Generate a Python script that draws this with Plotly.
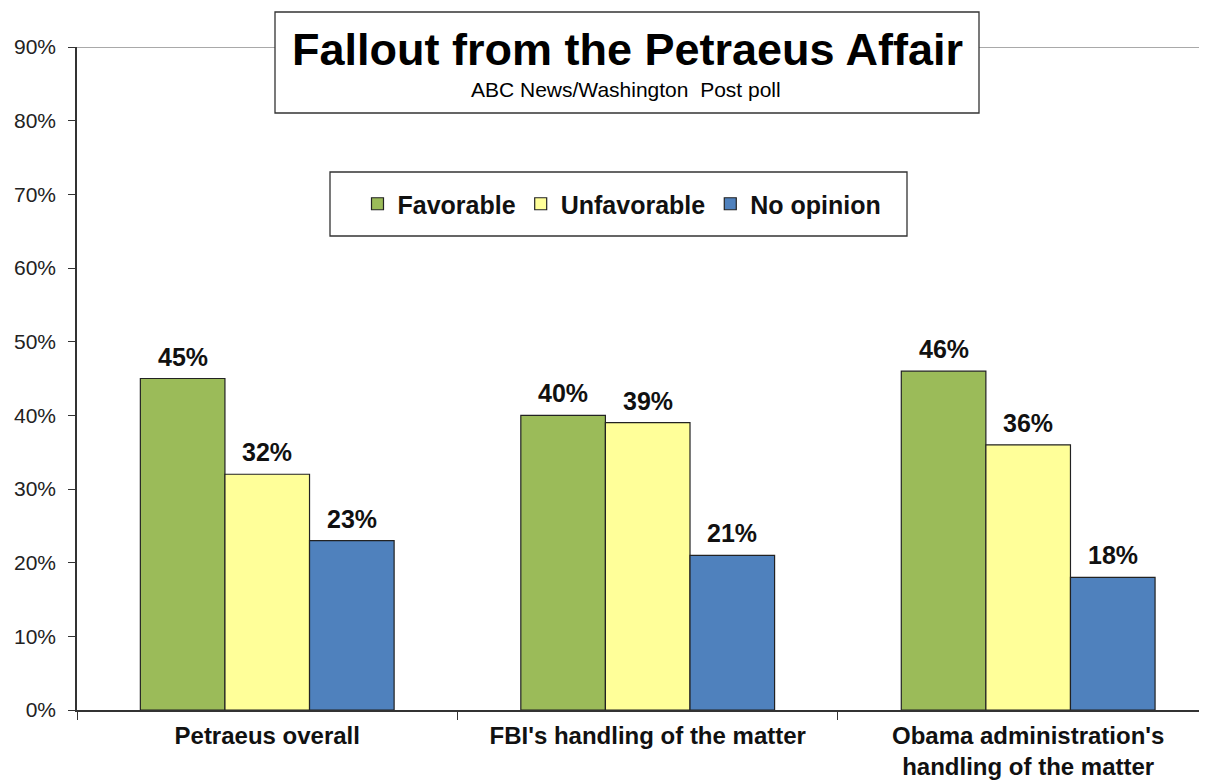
import plotly.graph_objects as go

categories = ["Petraeus overall", "FBI's handling of the matter", "Obama administration's<br>handling of the matter"]
series_names = ["Favorable", "Unfavorable", "No opinion"]
favorable = [45, 40, 46]
unfavorable = [32, 39, 36]
no_opinion = [23, 21, 18]
values = [favorable, unfavorable, no_opinion]
colors = ["#9BBB59", "#FFFF99", "#4F81BD"]
y_ticks = [0, 10, 20, 30, 40, 50, 60, 70, 80, 90]

FONT = "Arial, Liberation Sans, sans-serif"
BARGAP = 0.333

# page body has an 8px margin; screen coords below are converted accordingly
PX_L, PX_R, PX_T, PX_B = 77, 1207, 47, 710
def px(xs):
    return (xs - PX_L) / (PX_R - PX_L)
def py(ys):
    return (PX_B - ys) / (PX_B - PX_T)

fig = go.Figure()
for name, vals, col in zip(series_names, values, colors):
    fig.add_trace(go.Bar(
        name=name, x=categories, y=vals,
        marker=dict(color=col, line=dict(color="#222222", width=1.2)),
        hoverinfo="skip",
    ))

# value labels
w = (1 - BARGAP) / 3
annotations = []
for j, vals in enumerate(values):
    for i, v in enumerate(vals):
        annotations.append(dict(
            x=i + (j - 1) * w, y=v, xref="x", yref="y",
            text=f"{v}%", showarrow=False, yanchor="bottom", yshift=6,
            font=dict(family=FONT, size=25, color="#111111", weight="bold"),
        ))

# title
annotations.append(dict(
    x=px(627), y=py(50), xref="paper", yref="paper", text="<b>Fallout from the Petraeus Affair</b>",
    showarrow=False, xanchor="center", yanchor="middle",
    font=dict(family=FONT, size=45, color="#000000"),
))
annotations.append(dict(
    x=px(626), y=py(89), xref="paper", yref="paper", text="ABC News/Washington  Post poll",
    showarrow=False, xanchor="center", yanchor="middle",
    font=dict(family=FONT, size=21, color="#000000"),
))

shapes = [
    # top border line at 90%
    dict(type="line", xref="paper", yref="y", x0=0, x1=1, y0=90, y1=90,
         line=dict(color="#8c8c8c", width=1.5), layer="below"),
    # title box
    dict(type="rect", xref="paper", yref="paper", x0=px(275), x1=px(979), y0=py(113), y1=py(12),
         line=dict(color="#333333", width=1.3), fillcolor="white", layer="above"),
    # legend box
    dict(type="rect", xref="paper", yref="paper", x0=px(330), x1=px(907), y0=py(236), y1=py(172),
         line=dict(color="#333333", width=1.3), fillcolor="white", layer="below"),
]

fig.update_layout(
    width=1199, height=773,
    margin=dict(l=69, r=0, t=39, b=71, autoexpand=False),
    paper_bgcolor="white", plot_bgcolor="white",
    barmode="group", bargap=BARGAP, bargroupgap=0,
    font=dict(family=FONT, color="#111111"),
    showlegend=True,
    legend=dict(
        orientation="h", x=px(622), y=py(204),
        xanchor="center", yanchor="middle",
        font=dict(family=FONT, size=25, color="#111111", weight="bold"),
        bgcolor="rgba(0,0,0,0)", borderwidth=0,
        itemclick=False, itemdoubleclick=False, itemwidth=30,
    ),
    annotations=annotations,
    shapes=shapes,
    xaxis=dict(
        type="category", range=[-0.5, 2.47], tickson="boundaries",
        ticks="outside", ticklen=8, tickcolor="#333333", tickwidth=1.2,
        showline=True, linecolor="#333333", linewidth=1.5,
        showgrid=False, zeroline=False, ticklabelstandoff=3, automargin=False,
        tickfont=dict(family=FONT, size=24, color="#111111", weight="bold"),
        fixedrange=True,
    ),
    yaxis=dict(
        range=[0, 90], tickvals=y_ticks, ticktext=[f"{t}%" for t in y_ticks],
        ticks="outside", ticklen=7, tickcolor="#333333", tickwidth=1.2,
        showline=True, linecolor="#333333", linewidth=1.5,
        showgrid=False, zeroline=False, ticklabelstandoff=8, automargin=False,
        tickfont=dict(family=FONT, size=21, color="#222222"),
        fixedrange=True,
    ),
)

fig.write_html("out.html", config={"displayModeBar": False})
